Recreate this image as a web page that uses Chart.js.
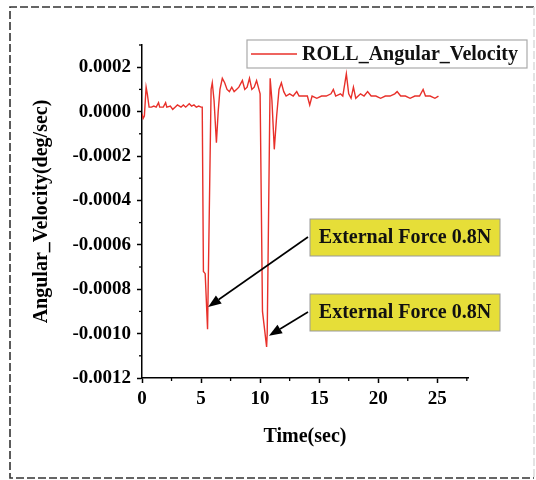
<!DOCTYPE html>
<html>
<head>
<meta charset="utf-8">
<script src="https://cdn.jsdelivr.net/npm/chart.js@4/dist/chart.umd.min.js"></script>
<style>
    html, body { margin: 0; padding: 0; background: #fff; }
    #wrap { position: relative; width: 536px; height: 480px; }
</style>
</head>
<body>
<div id="wrap"><canvas id="chart" width="536" height="480"></canvas></div>
<script>
// 数据
const time = [
    0, 0.1, 0.2, 0.35, 0.45, 0.6, 0.8, 1.0, 1.2, 1.4,
    1.5, 1.8, 2.0, 2.1, 2.4, 2.6, 2.8, 3.0, 3.3, 3.5,
    3.7, 4.0, 4.2, 4.4, 4.6, 4.8, 5.0, 5.1, 5.2, 5.35,
    5.55, 5.85, 5.95, 6.1, 6.3, 6.45, 6.6, 6.8, 7.0, 7.2,
    7.4, 7.6, 7.8, 8.0, 8.2, 8.5, 8.7, 8.9, 9.1, 9.3,
    9.5, 9.7, 9.9, 10.0, 10.2, 10.55, 10.6, 10.85, 11.0, 11.2,
    11.4, 11.6, 11.8, 12.0, 12.2, 12.5, 12.8, 13.1, 13.3, 13.6,
    14.0, 14.2, 14.4, 14.8, 15.2, 15.6, 16.0, 16.2, 16.4, 16.8,
    17.0, 17.3, 17.5, 17.7, 17.9, 18.1, 18.5, 18.8, 19.1, 19.4,
    19.8, 20.2, 20.6, 21.0, 21.4, 21.6, 21.9, 22.3, 22.7, 23.1,
    23.5, 23.8, 24.0, 24.4, 24.8, 25.1
];
const roll = [
    -0.00001, -0.00003, -0.00002, 0.00011, 0.00008, 0.00002, 0.00002, 0.000025, 0.00002, 0.00004,
    0.00002, 0.00002, 0.00004, 0.00002, 0.000025, 0.00001, 0.00002, 0.00003, 0.00002, 0.00003,
    0.00002, 0.000035, 0.000025, 0.00003, 0.00002, 0.000025, 0.00002, 0.00002, -0.00072, -0.00073,
    -0.00098, 0.00010, 0.00013, 0.00005, -0.00014, 0.00000, 0.00010, 0.00015, 0.00013, 0.00010,
    0.00009, 0.00011, 0.00009, 0.00010, 0.00011, 0.00014, 0.00010, 0.00011, 0.00015, 0.00010,
    0.00011, 0.00014, 0.00010, 0.00008, -0.00090, -0.00106, -0.00100, 0.00015, 0.00005, -0.00017,
    -0.00002, 0.00010, 0.00013, 0.00009, 0.00007, 0.00008, 0.00007, 0.00009, 0.00007, 0.00007,
    0.00007, 0.00003, 0.00007, 0.00006, 0.00007, 0.00007, 0.00008, 0.00010, 0.00007, 0.00008,
    0.00007, 0.00017, 0.00008, 0.00006, 0.00011, 0.00006, 0.00008, 0.00007, 0.00009, 0.00007,
    0.00007, 0.00006, 0.00007, 0.00007, 0.00008, 0.00009, 0.00007, 0.00007, 0.00006, 0.00007,
    0.00007, 0.00010, 0.00007, 0.00007, 0.00006, 0.00007
];

// 刻度
const xTicks = [0, 5, 10, 15, 20, 25];
const xMinor = [2.5, 7.5, 12.5, 17.5, 22.5, 27.5];
const yTicks = [-0.0012, -0.0010, -0.0008, -0.0006, -0.0004, -0.0002, 0.0000, 0.0002];
const yMinor = [-0.0011, -0.0009, -0.0007, -0.0005, -0.0003, -0.0001, 0.0001, 0.0003];

// 标注 (箭头指向的数据点)
const noteText = 'External Force 0.8N';
const noteTargets = [[5.6, -0.00088], [10.75, -0.00101]];

const serif = '"Liberation Serif", "DejaVu Serif", serif';

// 外框、图例、标注、次刻度
const decorPlugin = {
    id: 'decor',
    beforeDraw(chart) {
        const ctx = chart.ctx;
        ctx.save();
        ctx.fillStyle = '#fff';
        ctx.fillRect(0, 0, chart.width, chart.height);
        ctx.strokeStyle = '#333';
        ctx.lineWidth = 1.6;
        ctx.setLineDash([8, 3]);
        ctx.beginPath();
        ctx.moveTo(534, 7); ctx.lineTo(10, 7); ctx.lineTo(10, 478); ctx.lineTo(534, 478);
        ctx.stroke();
        ctx.strokeStyle = '#ddd';
        ctx.beginPath();
        ctx.moveTo(534, 7); ctx.lineTo(534, 478);
        ctx.stroke();
        ctx.restore();
    },
    afterDraw(chart) {
        const ctx = chart.ctx;
        const xs = chart.scales.x, ys = chart.scales.y;
        const area = chart.chartArea;
        ctx.save();

        // 次刻度
        ctx.strokeStyle = '#000';
        ctx.lineWidth = 1.3;
        xMinor.forEach(v => {
            const px = xs.getPixelForValue(v);
            ctx.beginPath(); ctx.moveTo(px, area.bottom); ctx.lineTo(px, area.bottom + 3); ctx.stroke();
        });
        yMinor.forEach(v => {
            const py = ys.getPixelForValue(v);
            ctx.beginPath(); ctx.moveTo(area.left, py); ctx.lineTo(area.left - 3, py); ctx.stroke();
        });

        // 图例
        const ds = chart.data.datasets[0];
        ctx.fillStyle = '#fff';
        ctx.fillRect(247, 40, 280, 28);
        ctx.strokeStyle = '#aaa';
        ctx.lineWidth = 1.2;
        ctx.strokeRect(247, 40, 280, 28);
        ctx.strokeStyle = ds.borderColor;
        ctx.lineWidth = 1.4;
        ctx.beginPath(); ctx.moveTo(251, 54); ctx.lineTo(297, 54); ctx.stroke();
        ctx.fillStyle = '#111';
        ctx.font = 'bold 20px ' + serif;
        ctx.textBaseline = 'middle';
        ctx.textAlign = 'left';
        ctx.fillText(ds.label, 302, 55);

        // 标注框和箭头
        const boxes = [[310, 219], [310, 294]];
        boxes.forEach((b, i) => {
            ctx.fillStyle = '#e6de38';
            ctx.fillRect(b[0], b[1], 190, 37);
            ctx.strokeStyle = '#999';
            ctx.lineWidth = 1;
            ctx.strokeRect(b[0], b[1], 190, 37);
            ctx.fillStyle = '#111';
            ctx.font = 'bold 20px ' + serif;
            ctx.textAlign = 'center';
            ctx.fillText(noteText, b[0] + 95, b[1] + 19);

            const tx = xs.getPixelForValue(noteTargets[i][0]);
            const ty = ys.getPixelForValue(noteTargets[i][1]);
            const sx = b[0] - 2, sy = b[1] + 18;
            const ang = Math.atan2(ty - sy, tx - sx);
            const hl = 13, hw = 5;
            const bx = tx - hl * Math.cos(ang), by = ty - hl * Math.sin(ang);
            ctx.strokeStyle = '#000';
            ctx.lineWidth = 1.6;
            ctx.beginPath(); ctx.moveTo(sx, sy); ctx.lineTo(bx, by); ctx.stroke();
            ctx.fillStyle = '#000';
            ctx.beginPath();
            ctx.moveTo(tx, ty);
            ctx.lineTo(bx + hw * Math.sin(ang), by - hw * Math.cos(ang));
            ctx.lineTo(bx - hw * Math.sin(ang), by + hw * Math.cos(ang));
            ctx.closePath();
            ctx.fill();
        });
        ctx.restore();
    }
};

const tickFont = { family: serif, size: 19, weight: 'bold' };
const titleFont = { family: serif, size: 20, weight: 'bold' };

new Chart(document.getElementById('chart').getContext('2d'), {
    type: 'line',
    data: {
        datasets: [{
            label: 'ROLL_Angular_Velocity',
            data: time.map((t, i) => ({ x: t, y: roll[i] })),
            borderColor: '#e8302a',
            borderWidth: 1.4,
            pointRadius: 0,
            tension: 0,
            fill: false
        }]
    },
    options: {
        responsive: false,
        animation: false,
        layout: { padding: { left: 0, top: 45, right: 68, bottom: 0 } },
        plugins: {
            legend: { display: false },
            tooltip: { enabled: false }
        },
        scales: {
            x: {
                type: 'linear',
                min: 0,
                max: 27.6,
                afterBuildTicks: scale => { scale.ticks = xTicks.map(v => ({ value: v })); },
                afterFit: scale => { scale.height = 102; },
                ticks: { color: '#000', font: tickFont, padding: 5, maxRotation: 0 },
                grid: { drawOnChartArea: false, drawTicks: true, tickLength: 5, tickColor: '#000', tickWidth: 1.5 },
                border: { display: true, color: '#000', width: 1.5 },
                title: { display: true, text: 'Time(sec)', color: '#000', font: titleFont, padding: { top: 0, bottom: 31 } }
            },
            y: {
                min: -0.0012,
                max: 0.0003,
                afterBuildTicks: scale => { scale.ticks = yTicks.map(v => ({ value: v })); },
                afterFit: scale => { scale.width = 142; },
                ticks: { color: '#000', font: tickFont, padding: 6, callback: v => v.toFixed(4) },
                grid: { drawOnChartArea: false, drawTicks: true, tickLength: 5, tickColor: '#000', tickWidth: 1.5 },
                border: { display: true, color: '#000', width: 1.5 },
                title: { display: true, text: 'Angular_Velocity(deg/sec)', color: '#000', font: titleFont, padding: { top: 30, bottom: 0 } }
            }
        }
    },
    plugins: [decorPlugin]
});
</script>
</body>
</html>
